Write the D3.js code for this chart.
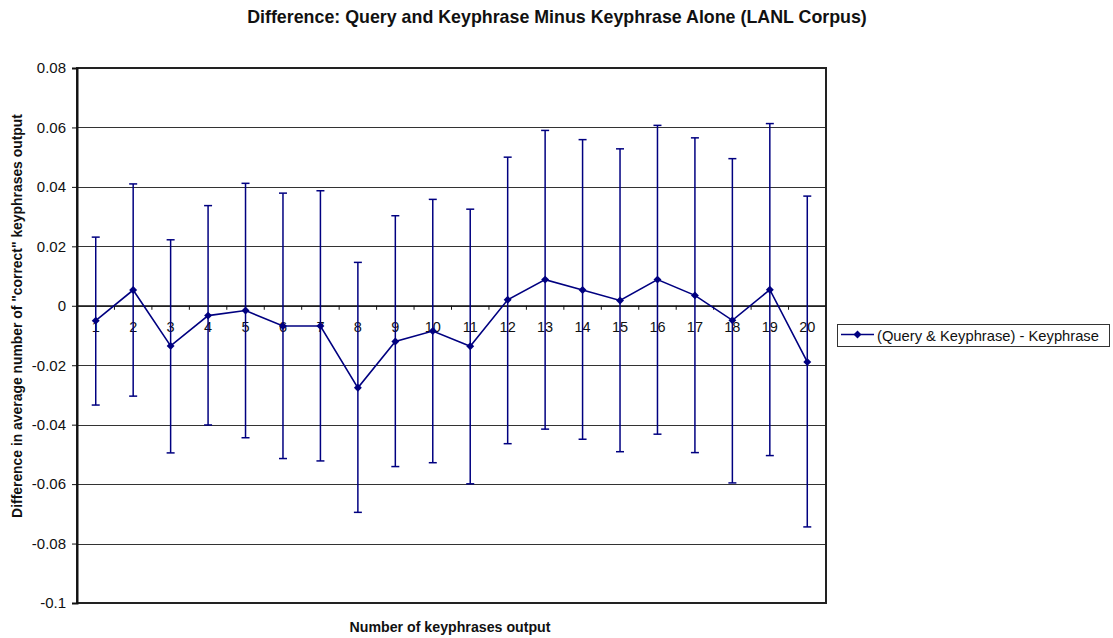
<!DOCTYPE html>
<html><head><meta charset="utf-8">
<script src="https://cdn.jsdelivr.net/npm/d3@7"></script>
<style>body{margin:0;background:#fff}svg{display:block}text{font-family:"Liberation Sans",Arial,sans-serif}</style>
</head><body>
<svg id="c" width="1113" height="638"></svg>
<script>
const categories = ["1","2","3","4","5","6","7","8","9","10","11","12","13","14","15","16","17","18","19","20"];
const means = [-0.0050,0.0053,-0.0135,-0.0033,-0.0016,-0.0068,-0.0068,-0.0276,-0.0120,-0.0085,-0.0136,0.0020,0.0088,0.0053,0.0018,0.0088,0.0035,-0.0049,0.0054,-0.0189];
const upper = [0.0231,0.0410,0.0222,0.0337,0.0412,0.0379,0.0387,0.0146,0.0303,0.0358,0.0325,0.0500,0.0590,0.0559,0.0528,0.0607,0.0565,0.0495,0.0613,0.0369];
const lower = [-0.0334,-0.0304,-0.0495,-0.0401,-0.0444,-0.0514,-0.0522,-0.0695,-0.0541,-0.0528,-0.0599,-0.0464,-0.0415,-0.0449,-0.0491,-0.0432,-0.0494,-0.0596,-0.0504,-0.0744];
const yTicks = [0.08,0.06,0.04,0.02,0,-0.02,-0.04,-0.06,-0.08,-0.1];
const yTickLabels = ["0.08","0.06","0.04","0.02","0","-0.02","-0.04","-0.06","-0.08","-0.1"];
const seriesName = "(Query & Keyphrase) - Keyphrase";
const title = "Difference: Query and Keyphrase Minus Keyphrase Alone (LANL Corpus)";
const xTitle = "Number of keyphrases output";
const yTitle = "Difference in average number of \"correct\" keyphrases output";

const svg = d3.select("#c");
const L=77, R=826, T=68, B=603;
const color = "#000080";
const x = d3.scaleBand().domain(categories).range([L,R]).padding(0);
const y = d3.scaleLinear().domain([-0.1,0.08]).range([B,T]);
const cx = d => x(d)+x.bandwidth()/2;

function fit(sel, target){
  const n = sel.node();
  const fs = parseFloat(sel.attr("font-size"));
  const w = n.getComputedTextLength();
  if (w>0) sel.attr("font-size", (fs*target/w).toFixed(2));
  return sel;
}

// gridlines
svg.append("g").selectAll("line").data(yTicks).join("line")
  .attr("x1",L).attr("x2",R).attr("y1",d=>Math.round(y(d))+0.5).attr("y2",d=>Math.round(y(d))+0.5)
  .attr("stroke","#333").attr("stroke-width",1);

// plot border
svg.append("rect").attr("x",L).attr("y",T).attr("width",R-L).attr("height",B-T)
  .attr("fill","none").attr("stroke","#222").attr("stroke-width",2);

// y axis
const yAxis = d3.axisLeft(y).tickValues(yTicks).tickFormat((d,i)=>yTickLabels[i]).tickSize(5).tickPadding(6);
const ga = svg.append("g").attr("transform",`translate(${L},0)`).call(yAxis);
ga.select(".domain").attr("stroke","#111").attr("stroke-width",2);
ga.selectAll(".tick line").attr("stroke","#111");
ga.selectAll("text").attr("font-size",15).attr("fill","#111");

// x axis at zero
const y0 = y(0);
svg.append("line").attr("x1",L).attr("x2",R).attr("y1",y0).attr("y2",y0).attr("stroke","#111").attr("stroke-width",1.2);
svg.append("g").selectAll("line").data(categories.slice(1)).join("line")
  .attr("x1",d=>x(d)).attr("x2",d=>x(d)).attr("y1",y0).attr("y2",y0+4)
  .attr("stroke","#111").attr("stroke-width",1);
svg.append("g").selectAll("text").data(categories).join("text")
  .attr("x",d=>cx(d)).attr("y",y0+26).attr("text-anchor","middle")
  .attr("font-size",14.5).attr("fill","#111").text(d=>d);

// error bars
const eb = svg.append("g").attr("stroke",color).attr("stroke-width",1.5);
categories.forEach((c,i)=>{
  eb.append("line").attr("x1",cx(c)).attr("x2",cx(c)).attr("y1",y(upper[i])).attr("y2",y(lower[i]));
  eb.append("line").attr("x1",cx(c)-4).attr("x2",cx(c)+4).attr("y1",y(upper[i])).attr("y2",y(upper[i]));
  eb.append("line").attr("x1",cx(c)-4).attr("x2",cx(c)+4).attr("y1",y(lower[i])).attr("y2",y(lower[i]));
});

// line
const line = d3.line().x((d,i)=>cx(categories[i])).y(d=>y(d));
svg.append("path").datum(means).attr("d",line).attr("fill","none").attr("stroke",color).attr("stroke-width",1.6);
const diamond = d3.symbol().type(d3.symbolDiamond2).size(40);
svg.append("g").selectAll("path").data(means).join("path")
  .attr("transform",(d,i)=>`translate(${cx(categories[i])},${y(d)})`)
  .attr("d",diamond).attr("fill",color);

// titles
fit(svg.append("text").attr("x",557).attr("y",23).attr("text-anchor","middle")
  .attr("font-size",16).attr("font-weight","bold").attr("fill","#111").text(title), 620);
fit(svg.append("text").attr("x",450).attr("y",632).attr("text-anchor","middle")
  .attr("font-size",13).attr("font-weight","bold").attr("fill","#111").text(xTitle), 201);
fit(svg.append("text").attr("transform","translate(22,316) rotate(-90)").attr("text-anchor","middle")
  .attr("font-size",12).attr("font-weight","bold").attr("fill","#111").text(yTitle), 404);

// legend
const lg = svg.append("g");
lg.append("rect").attr("x",837.5).attr("y",324.5).attr("width",272).attr("height",22)
  .attr("fill","#fff").attr("stroke","#333").attr("stroke-width",1);
lg.append("line").attr("x1",841).attr("x2",874).attr("y1",334.5).attr("y2",334.5).attr("stroke",color).attr("stroke-width",1.6);
lg.append("path").attr("transform","translate(857.5,334.5)").attr("d",diamond).attr("fill",color);
fit(lg.append("text").attr("x",877).attr("y",341).attr("font-size",14).attr("fill","#111").text(seriesName), 222);
</script>
</body></html>
